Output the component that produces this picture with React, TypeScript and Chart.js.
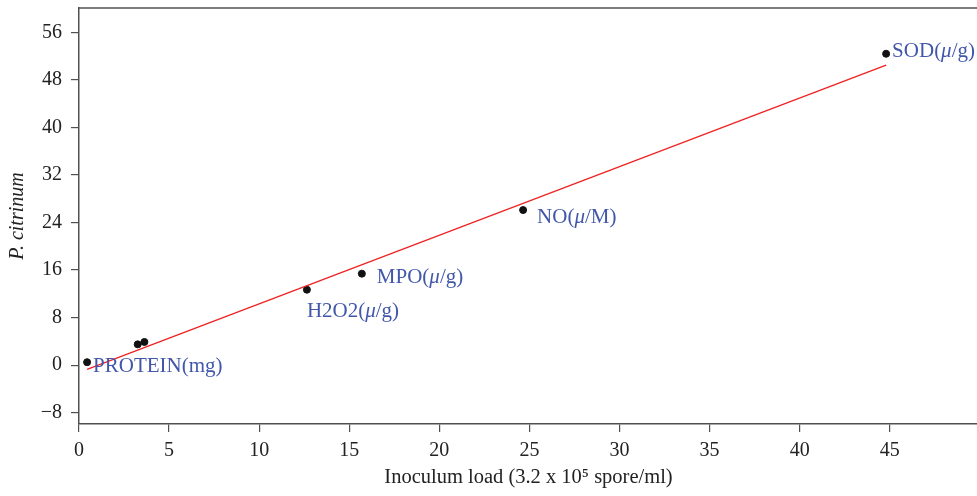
import React, { useEffect, useRef } from "react";
import { Chart, registerables } from "chart.js";

Chart.register(...registerables);

const xValues = [0.45, 3.26, 3.63, 12.65, 15.7, 24.65, 44.8];
const yValues = [0.5, 3.5, 3.9, 12.7, 15.4, 26.1, 52.4];
const pointLabels = ["PROTEIN(mg)", "", "", "H2O2(\u03bc/g)", "MPO(\u03bc/g)", "NO(\u03bc/M)", "SOD(\u03bc/g)"];
const trendX = [0.45, 44.8];
const trendY = [-0.7, 50.5];
const yTickValues = [-8, 0, 8, 16, 24, 32, 40, 48, 56];
const xTickValues = [0, 5, 10, 15, 20, 25, 30, 35, 40, 45];

const labelOffsets: [number, number][] = [
  [6, 4],
  [0, 0],
  [0, 0],
  [0, 22],
  [15, 4],
  [14, 7],
  [6, -2],
];

const AXIS_COLOR = "#505050";
const TEXT_COLOR = "#222222";
const LABEL_COLOR = "#4257aa";
const SERIF = "'Liberation Serif', 'DejaVu Serif', serif";

const labelPlugin = {
  id: "pointLabels",
  afterDatasetsDraw(chart: any) {
    const ctx = chart.ctx;
    const xs = chart.scales.x;
    const ys = chart.scales.y;
    const normal = `21px ${SERIF}`;
    const italic = `italic 21px ${SERIF}`;
    ctx.save();
    ctx.fillStyle = LABEL_COLOR;
    ctx.textAlign = "left";
    ctx.textBaseline = "middle";
    pointLabels.forEach((lab, i) => {
      if (!lab) return;
      const px = xs.getPixelForValue(xValues[i]);
      const py = ys.getPixelForValue(yValues[i]);
      const [dx, dy] = labelOffsets[i];
      let cx = px + dx;
      const parts = lab.split(/(\u03bc)/);
      parts.forEach((p) => {
        if (!p) return;
        ctx.font = p === "\u03bc" ? italic : normal;
        ctx.fillText(p, cx, py + dy);
        cx += ctx.measureText(p).width;
      });
    });
    ctx.restore();
  },
};

const topBorderPlugin = {
  id: "topBorder",
  afterDraw(chart: any) {
    const { ctx, chartArea } = chart;
    ctx.save();
    ctx.strokeStyle = AXIS_COLOR;
    ctx.lineWidth = 1.5;
    ctx.beginPath();
    ctx.moveTo(chartArea.left, chartArea.top);
    ctx.lineTo(chartArea.right, chartArea.top);
    ctx.stroke();
    ctx.restore();
  },
};

export default function App() {
  const ref = useRef<HTMLCanvasElement | null>(null);

  useEffect(() => {
    if (!ref.current) return;
    const chart = new Chart(ref.current, {
      type: "scatter",
      data: {
        datasets: [
          {
            type: "line",
            data: trendX.map((x, i) => ({ x, y: trendY[i] })),
            borderColor: "#ee2222",
            borderWidth: 1.3,
            pointRadius: 0,
            fill: false,
          } as any,
          {
            data: xValues.map((x, i) => ({ x, y: yValues[i] })),
            backgroundColor: "#111111",
            borderColor: "#111111",
            pointRadius: 3.5,
          },
        ],
      },
      options: {
        animation: false,
        responsive: true,
        maintainAspectRatio: false,
        layout: { padding: { top: 8, right: 0, left: 0, bottom: 0 } },
        plugins: {
          legend: { display: false },
          tooltip: { enabled: false },
        },
        scales: {
          x: {
            type: "linear",
            min: 0,
            max: 49.9,
            afterBuildTicks: (scale: any) => {
              scale.ticks = xTickValues.map((v) => ({ value: v }));
            },
            afterFit: (scale: any) => {
              scale.height = 72;
              scale.paddingLeft = 0;
              scale.paddingRight = 0;
            },
            grid: {
              display: true,
              drawOnChartArea: false,
              drawTicks: true,
              tickLength: 8,
              color: AXIS_COLOR,
              lineWidth: 1.2,
            },
            border: { display: true, color: AXIS_COLOR, width: 1.5 },
            ticks: {
              color: TEXT_COLOR,
              font: { family: SERIF, size: 20 },
              padding: 7,
              maxRotation: 0,
            },
            title: {
              display: true,
              text: "Inoculum load (3.2 x 10\u2075 spore/ml)",
              color: TEXT_COLOR,
              font: { family: SERIF, size: 20.5 },
              padding: { top: 0, bottom: 6 },
            },
          },
          y: {
            type: "linear",
            min: -9.9,
            max: 60.1,
            afterBuildTicks: (scale: any) => {
              scale.ticks = yTickValues.map((v) => ({ value: v }));
            },
            afterFit: (scale: any) => {
              scale.width = 79;
              scale.paddingTop = 0;
              scale.paddingBottom = 0;
            },
            grid: {
              display: true,
              drawOnChartArea: false,
              drawTicks: true,
              tickLength: 8,
              color: AXIS_COLOR,
              lineWidth: 1.2,
            },
            border: { display: true, color: AXIS_COLOR, width: 1.5 },
            ticks: {
              color: TEXT_COLOR,
              font: { family: SERIF, size: 20 },
              padding: 9,
              callback: (v: any) => (Number(v) < 0 ? "\u2212" + Math.abs(Number(v)) : String(v)),
            },
            title: {
              display: true,
              text: "P. citrinum",
              color: TEXT_COLOR,
              font: { family: SERIF, size: 20, style: "italic" },
              padding: { top: 6, bottom: 0 },
            },
          },
        },
      },
      plugins: [labelPlugin, topBorderPlugin],
    });
    return () => chart.destroy();
  }, []);

  return (
    <div style={{ position: "absolute", left: 0, top: 0, width: 977, height: 496, overflow: "hidden", background: "#fff" }}>
      <div style={{ position: "relative", width: 983, height: 496 }}>
        <canvas ref={ref} />
      </div>
    </div>
  );
}
